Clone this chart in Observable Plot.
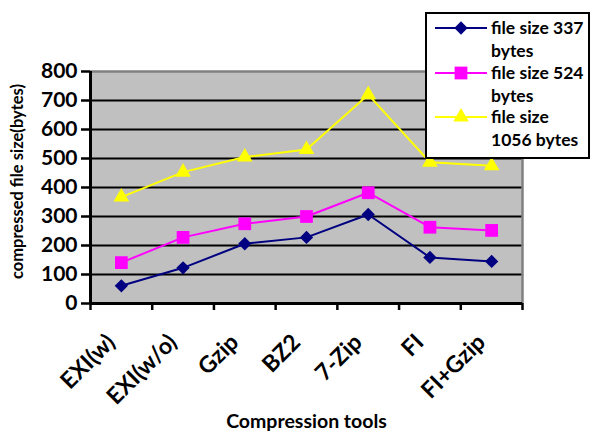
<!DOCTYPE html>
<html><head><meta charset="utf-8">
<script src="https://cdn.jsdelivr.net/npm/d3@7"></script>
<script src="https://cdn.jsdelivr.net/npm/@observablehq/plot@0.6"></script>
<style>
body{margin:0;background:#fff;font-family:Lato, sans-serif;}
#wrap{position:relative;width:590px;height:432px;}
#wrap svg{display:block;}
#legend{position:absolute;left:425px;top:12px;}
</style></head><body><div id="wrap"></div>
<script>
const categories = ["EXI(w)","EXI(w/o)","Gzip","BZ2","7-Zip","FI","FI+Gzip"];
const size337 = [61,123,206,228,307,159,145];
const size524 = [141,228,275,300,382,263,252];
const size1056 = [367,453,505,531,720,487,475];
const seriesNames = ["file size 337 bytes","file size 524 bytes","file size 1056 bytes"];
const legendLines = [["file size 337","bytes"],["file size 524","bytes"],["file size","1056 bytes"]];
const seriesColors = ["#000080","#FF00FF","#FFFF00"];
const seriesSymbols = ["diamond2","square","triangle"];
const yTicks = [0,100,200,300,400,500,600,700,800];
const xLabel = "Compression tools";
const yLabel = "compressed file size(bytes)";

const allSeries = [size337,size524,size1056];
const rows = [];
allSeries.forEach((vals,s)=>vals.forEach((v,i)=>rows.push({series:seriesNames[s],cat:categories[i],i,value:v})));
const pos = d => d.i + 0.5;
const symR = [6,7.2,5.8];

const plot = Plot.plot({
  width:590, height:432,
  marginLeft:90, marginRight:68, marginTop:71, marginBottom:129,
  x:{domain:[0,categories.length]},
  y:{domain:[0,800]},
  color:{domain:seriesNames, range:seriesColors},
  style:{fontFamily:"Lato, sans-serif", background:"transparent", color:"#000", overflow:"visible"},
  marks:[
    Plot.frame({fill:"#c0c0c0", stroke:null}),
    Plot.ruleY(yTicks.slice(1,-1), {stroke:"#000", strokeWidth:2}),
    Plot.ruleY([800], {stroke:"#808080", strokeWidth:2.5}),
    Plot.ruleX([categories.length], {stroke:"#808080", strokeWidth:2.5}),
    Plot.axisY({ticks:yTicks, tickSize:9, tickPadding:4, strokeWidth:2.5, fontSize:21, fontWeight:"bold", label:null}),
    Plot.axisX({ticks:d3.range(categories.length+1), tickFormat:()=>"", tickSize:7, strokeWidth:2.5, label:null}),
    Plot.ruleX([0], {stroke:"#000", strokeWidth:3}),
    Plot.ruleY([0], {stroke:"#000", strokeWidth:3}),
    Plot.line(rows, {x:pos, y:"value", z:"series", stroke:"series", strokeWidth:2}),
    ...allSeries.map((vals,s)=>Plot.dot(rows.filter(d=>d.series===seriesNames[s]), {x:pos, y:"value", symbol:()=>seriesSymbols[s], fill:seriesColors[s], stroke:"none", r:symR[s]})),
    Plot.text(categories, {x:(d,i)=>i+0.5, y:()=>0, text:d=>d, rotate:-45, textAnchor:"end", lineAnchor:"middle", dx:-10, dy:35, fontSize:23, fontWeight:"bold", fill:"#000"}),
    Plot.text([xLabel], {frameAnchor:"bottom", text:d=>d, textAnchor:"middle", lineAnchor:"middle", dy:118, fontSize:19.5, fontWeight:"bold", fill:"#000"}),
    Plot.text([yLabel], {frameAnchor:"left", text:d=>d, textAnchor:"middle", lineAnchor:"middle", rotate:-90, dx:-73, dy:-6, fontSize:16.5, fontWeight:"bold", fill:"#000"})
  ]
});
document.getElementById("wrap").appendChild(plot);

// legend overlay
const lg = d3.select("#wrap").append("svg").attr("id","legend").attr("width",165).attr("height",147);
lg.append("rect").attr("x",1).attr("y",1).attr("width",163).attr("height",145).attr("fill","#fff").attr("stroke","#000").attr("stroke-width",2);
const rowY = [16,61,105];
legendLines.forEach((lines,s)=>{
  const g = lg.append("g").attr("transform",`translate(0,${rowY[s]})`);
  g.append("line").attr("x1",10).attr("x2",62).attr("y1",0).attr("y2",0).attr("stroke",seriesColors[s]).attr("stroke-width",2);
  const sym = {diamond2:d3.symbolDiamond2, square:d3.symbolSquare, triangle:d3.symbolTriangle}[seriesSymbols[s]];
  g.append("path").attr("transform","translate(36,0)").attr("d",d3.symbol(sym, Math.PI*symR[s]*symR[s])()).attr("fill",seriesColors[s]);
  lines.forEach((t,k)=>g.append("text").attr("x",66).attr("y",k*22.5).attr("dy","0.35em").attr("font-size",17.5).attr("font-weight","bold").attr("font-family","Lato, sans-serif").text(t));
});
</script></body></html>
